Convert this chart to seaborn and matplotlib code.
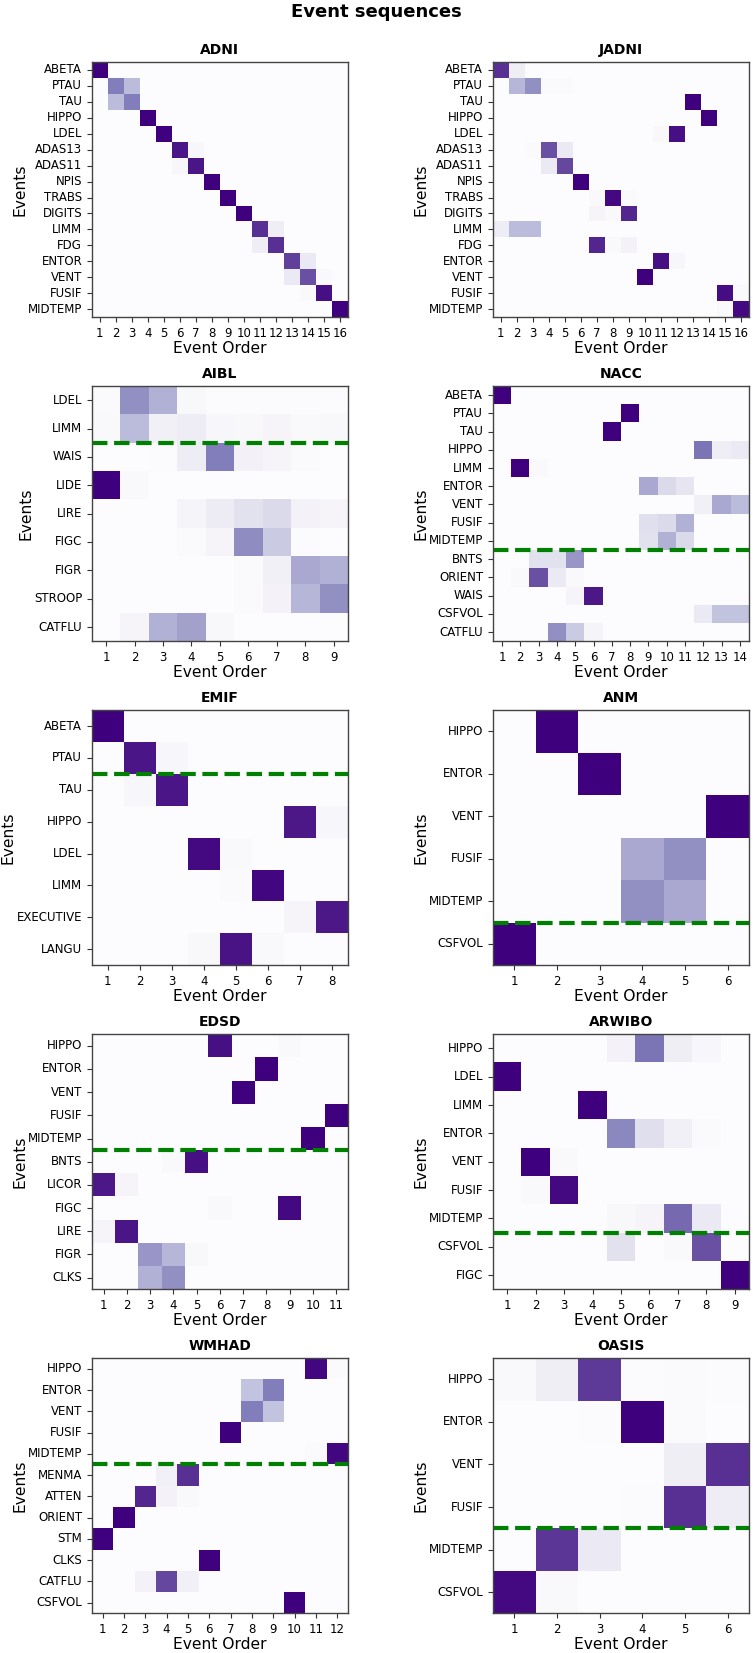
import numpy as np
import pandas as pd
import matplotlib
matplotlib.use("Agg")
import matplotlib.pyplot as plt
import seaborn as sns

# panel names, event labels and (event, order, probability) entries
titles = ["ADNI", "JADNI", "AIBL", "NACC", "EMIF", "ANM", "EDSD", "ARWIBO", "WMHAD", "OASIS"]

adni_events = ["ABETA", "PTAU", "TAU", "HIPPO", "LDEL", "ADAS13", "ADAS11", "NPIS",
               "TRABS", "DIGITS", "LIMM", "FDG", "ENTOR", "VENT", "FUSIF", "MIDTEMP"]
adni_cells = [("ABETA", 1, 1.0), ("PTAU", 2, 0.62), ("PTAU", 3, 0.38), ("TAU", 2, 0.38), ("TAU", 3, 0.62),
              ("HIPPO", 4, 1.0), ("LDEL", 5, 1.0), ("ADAS13", 6, 0.93), ("ADAS13", 7, 0.05),
              ("ADAS11", 6, 0.05), ("ADAS11", 7, 0.93), ("NPIS", 8, 1.0), ("TRABS", 9, 1.0),
              ("DIGITS", 10, 1.0), ("LIMM", 11, 0.85), ("LIMM", 12, 0.12), ("FDG", 11, 0.12),
              ("FDG", 12, 0.85), ("ENTOR", 13, 0.8), ("ENTOR", 14, 0.15), ("VENT", 13, 0.15),
              ("VENT", 14, 0.75), ("VENT", 15, 0.03), ("FUSIF", 14, 0.03), ("FUSIF", 15, 0.95),
              ("MIDTEMP", 16, 1.0)]

jadni_events = adni_events
jadni_cells = [("ABETA", 1, 0.85), ("ABETA", 2, 0.12), ("PTAU", 2, 0.4), ("PTAU", 3, 0.55),
               ("PTAU", 4, 0.02), ("PTAU", 5, 0.02), ("TAU", 13, 1.0), ("HIPPO", 14, 1.0),
               ("LDEL", 11, 0.04), ("LDEL", 12, 0.95), ("ADAS13", 3, 0.02), ("ADAS13", 4, 0.75),
               ("ADAS13", 5, 0.15), ("ADAS11", 4, 0.15), ("ADAS11", 5, 0.78), ("NPIS", 6, 1.0),
               ("TRABS", 7, 0.03), ("TRABS", 8, 0.97), ("TRABS", 9, 0.02), ("DIGITS", 7, 0.06),
               ("DIGITS", 8, 0.03), ("DIGITS", 9, 0.88), ("LIMM", 1, 0.13), ("LIMM", 2, 0.38),
               ("LIMM", 3, 0.38), ("FDG", 7, 0.88), ("FDG", 8, 0.03), ("FDG", 9, 0.08),
               ("ENTOR", 11, 0.95), ("ENTOR", 12, 0.05), ("VENT", 10, 1.0), ("FUSIF", 15, 0.96),
               ("FUSIF", 16, 0.03), ("MIDTEMP", 15, 0.03), ("MIDTEMP", 16, 0.97)]

aibl_events = ["LDEL", "LIMM", "WAIS", "LIDE", "LIRE", "FIGC", "FIGR", "STROOP", "CATFLU"]
aibl_cells = [("LDEL", 1, 0.02), ("LDEL", 2, 0.55), ("LDEL", 3, 0.42), ("LDEL", 4, 0.04),
              ("LDEL", 5, 0.01), ("LDEL", 6, 0.01), ("LDEL", 7, 0.01), ("LDEL", 8, 0.01), ("LDEL", 9, 0.01),
              ("LIMM", 1, 0.03), ("LIMM", 2, 0.38), ("LIMM", 3, 0.1), ("LIMM", 4, 0.13),
              ("LIMM", 5, 0.05), ("LIMM", 6, 0.04), ("LIMM", 7, 0.06), ("LIMM", 8, 0.03), ("LIMM", 9, 0.04),
              ("WAIS", 3, 0.01), ("WAIS", 4, 0.13), ("WAIS", 5, 0.62), ("WAIS", 6, 0.09),
              ("WAIS", 7, 0.06), ("WAIS", 8, 0.02), ("LIDE", 1, 1.0), ("LIDE", 2, 0.03),
              ("LIRE", 4, 0.07), ("LIRE", 5, 0.14), ("LIRE", 6, 0.2), ("LIRE", 7, 0.25),
              ("LIRE", 8, 0.08), ("LIRE", 9, 0.06), ("FIGC", 4, 0.02), ("FIGC", 5, 0.06),
              ("FIGC", 6, 0.56), ("FIGC", 7, 0.32), ("FIGC", 8, 0.01), ("FIGR", 6, 0.02),
              ("FIGR", 7, 0.1), ("FIGR", 8, 0.45), ("FIGR", 9, 0.42), ("STROOP", 6, 0.02),
              ("STROOP", 7, 0.08), ("STROOP", 8, 0.4), ("STROOP", 9, 0.55), ("CATFLU", 2, 0.06),
              ("CATFLU", 3, 0.42), ("CATFLU", 4, 0.48), ("CATFLU", 5, 0.04)]

nacc_events = ["ABETA", "PTAU", "TAU", "HIPPO", "LIMM", "ENTOR", "VENT", "FUSIF", "MIDTEMP",
               "BNTS", "ORIENT", "WAIS", "CSFVOL", "CATFLU"]
nacc_cells = [("ABETA", 1, 1.0), ("PTAU", 8, 1.0), ("TAU", 7, 1.0), ("HIPPO", 12, 0.65),
              ("HIPPO", 13, 0.12), ("HIPPO", 14, 0.15), ("LIMM", 2, 1.0), ("LIMM", 3, 0.03),
              ("ENTOR", 9, 0.45), ("ENTOR", 10, 0.25), ("ENTOR", 11, 0.18), ("VENT", 12, 0.1),
              ("VENT", 13, 0.45), ("VENT", 14, 0.38), ("FUSIF", 9, 0.22), ("FUSIF", 10, 0.25),
              ("FUSIF", 11, 0.42), ("MIDTEMP", 9, 0.2), ("MIDTEMP", 10, 0.42), ("MIDTEMP", 11, 0.25),
              ("BNTS", 3, 0.2), ("BNTS", 4, 0.2), ("BNTS", 5, 0.52), ("ORIENT", 2, 0.03),
              ("ORIENT", 3, 0.75), ("ORIENT", 4, 0.15), ("ORIENT", 5, 0.03), ("WAIS", 5, 0.06),
              ("WAIS", 6, 0.92), ("CSFVOL", 12, 0.15), ("CSFVOL", 13, 0.35), ("CSFVOL", 14, 0.35),
              ("CATFLU", 4, 0.55), ("CATFLU", 5, 0.32), ("CATFLU", 6, 0.07)]

emif_events = ["ABETA", "PTAU", "TAU", "HIPPO", "LDEL", "LIMM", "EXECUTIVE", "LANGU"]
emif_cells = [("ABETA", 1, 1.0), ("PTAU", 2, 0.93), ("PTAU", 3, 0.05), ("TAU", 2, 0.05),
              ("TAU", 3, 0.93), ("HIPPO", 7, 0.92), ("HIPPO", 8, 0.05), ("LDEL", 4, 0.97),
              ("LDEL", 5, 0.03), ("LIMM", 5, 0.02), ("LIMM", 6, 0.98), ("EXECUTIVE", 7, 0.06),
              ("EXECUTIVE", 8, 0.92), ("LANGU", 4, 0.04), ("LANGU", 5, 0.94), ("LANGU", 6, 0.03)]

anm_events = ["HIPPO", "ENTOR", "VENT", "FUSIF", "MIDTEMP", "CSFVOL"]
anm_cells = [("HIPPO", 2, 1.0), ("ENTOR", 3, 1.0), ("VENT", 6, 1.0), ("FUSIF", 4, 0.45),
             ("FUSIF", 5, 0.55), ("MIDTEMP", 4, 0.55), ("MIDTEMP", 5, 0.45), ("CSFVOL", 1, 1.0)]

edsd_events = ["HIPPO", "ENTOR", "VENT", "FUSIF", "MIDTEMP", "BNTS", "LICOR", "FIGC", "LIRE", "FIGR", "CLKS"]
edsd_cells = [("HIPPO", 6, 0.95), ("HIPPO", 9, 0.03), ("ENTOR", 8, 1.0), ("VENT", 7, 1.0),
              ("FUSIF", 11, 1.0), ("MIDTEMP", 10, 1.0), ("BNTS", 4, 0.03), ("BNTS", 5, 0.95),
              ("LICOR", 1, 0.92), ("LICOR", 2, 0.06), ("FIGC", 6, 0.03), ("FIGC", 9, 0.97),
              ("LIRE", 1, 0.06), ("LIRE", 2, 0.93), ("FIGR", 3, 0.52), ("FIGR", 4, 0.4),
              ("FIGR", 5, 0.04), ("CLKS", 3, 0.42), ("CLKS", 4, 0.55)]

arwibo_events = ["HIPPO", "LDEL", "LIMM", "ENTOR", "VENT", "FUSIF", "MIDTEMP", "CSFVOL", "FIGC"]
arwibo_cells = [("HIPPO", 5, 0.08), ("HIPPO", 6, 0.65), ("HIPPO", 7, 0.12), ("HIPPO", 8, 0.05),
                ("LDEL", 1, 1.0), ("LIMM", 4, 1.0), ("ENTOR", 5, 0.58), ("ENTOR", 6, 0.22),
                ("ENTOR", 7, 0.1), ("ENTOR", 8, 0.02), ("VENT", 2, 1.0), ("VENT", 3, 0.03),
                ("FUSIF", 2, 0.03), ("FUSIF", 3, 0.97), ("MIDTEMP", 5, 0.04), ("MIDTEMP", 6, 0.06),
                ("MIDTEMP", 7, 0.68), ("MIDTEMP", 8, 0.15), ("CSFVOL", 5, 0.2), ("CSFVOL", 7, 0.03),
                ("CSFVOL", 8, 0.75), ("FIGC", 9, 1.0)]

wmhad_events = ["HIPPO", "ENTOR", "VENT", "FUSIF", "MIDTEMP", "MENMA", "ATTEN", "ORIENT",
                "STM", "CLKS", "CATFLU", "CSFVOL"]
wmhad_cells = [("HIPPO", 11, 0.98), ("HIPPO", 12, 0.02), ("ENTOR", 8, 0.35), ("ENTOR", 9, 0.62),
               ("VENT", 8, 0.62), ("VENT", 9, 0.35), ("FUSIF", 7, 1.0), ("MIDTEMP", 11, 0.02),
               ("MIDTEMP", 12, 0.98), ("MENMA", 4, 0.1), ("MENMA", 5, 0.85), ("ATTEN", 3, 0.88),
               ("ATTEN", 4, 0.08), ("ATTEN", 5, 0.03), ("ORIENT", 2, 1.0), ("STM", 1, 1.0),
               ("CLKS", 6, 1.0), ("CATFLU", 3, 0.08), ("CATFLU", 4, 0.78), ("CATFLU", 5, 0.1),
               ("CSFVOL", 10, 1.0)]

oasis_events = ["HIPPO", "ENTOR", "VENT", "FUSIF", "MIDTEMP", "CSFVOL"]
oasis_cells = [("HIPPO", 1, 0.03), ("HIPPO", 2, 0.12), ("HIPPO", 3, 0.82), ("HIPPO", 4, 0.01),
               ("HIPPO", 5, 0.02), ("HIPPO", 6, 0.01), ("ENTOR", 3, 0.01), ("ENTOR", 4, 1.0),
               ("ENTOR", 5, 0.02), ("VENT", 5, 0.12), ("VENT", 6, 0.85), ("FUSIF", 4, 0.01),
               ("FUSIF", 5, 0.85), ("FUSIF", 6, 0.13), ("MIDTEMP", 2, 0.83), ("MIDTEMP", 3, 0.15),
               ("CSFVOL", 1, 0.97), ("CSFVOL", 2, 0.03)]

# row index after which the dashed separator is drawn (None = no line)
separators = [None, None, 2, 9, 2, 5, 5, 7, 5, 4]

all_events = [adni_events, jadni_events, aibl_events, nacc_events, emif_events,
              anm_events, edsd_events, arwibo_events, wmhad_events, oasis_events]
all_cells = [adni_cells, jadni_cells, aibl_cells, nacc_cells, emif_cells,
             anm_cells, edsd_cells, arwibo_cells, wmhad_cells, oasis_cells]


def to_matrix(events, cells):
    n = len(events)
    df = pd.DataFrame(0.0, index=events, columns=list(range(1, n + 1)))
    for ev, order, val in cells:
        df.loc[ev, order] = val
    return df


fig, axes = plt.subplots(5, 2, figsize=(7.53, 16.53), dpi=100)
fig.subplots_adjust(left=0.122, right=0.9947, top=0.9625, bottom=0.024,
                    wspace=0.566, hspace=0.27)

for ax, title, events, cells, sep in zip(axes.flat, titles, all_events, all_cells, separators):
    mat = to_matrix(events, cells)
    sns.heatmap(mat, ax=ax, cmap="Purples", vmin=0, vmax=1, cbar=False,
                xticklabels=mat.columns, yticklabels=mat.index)
    for sp in ax.spines.values():
        sp.set_visible(True)
        sp.set_color("#444444")
        sp.set_linewidth(1.0)
    ax.tick_params(axis="both", labelsize=8.5, length=3.5, color="#333333")
    ax.set_yticklabels(mat.index, rotation=0)
    ax.set_xticklabels(mat.columns, rotation=0)
    if sep is not None:
        ax.axhline(sep, color="green", linestyle="--", linewidth=3)
    ax.set_title(title, fontsize=10, fontweight="bold")
    ax.set_xlabel("Event Order", fontsize=11.2, labelpad=1)
    ax.set_ylabel("Events", fontsize=11.2, labelpad=0.5)

fig.suptitle("Event sequences", fontsize=13, fontweight="bold", y=0.998)

fig.savefig("out.png", dpi=100)
